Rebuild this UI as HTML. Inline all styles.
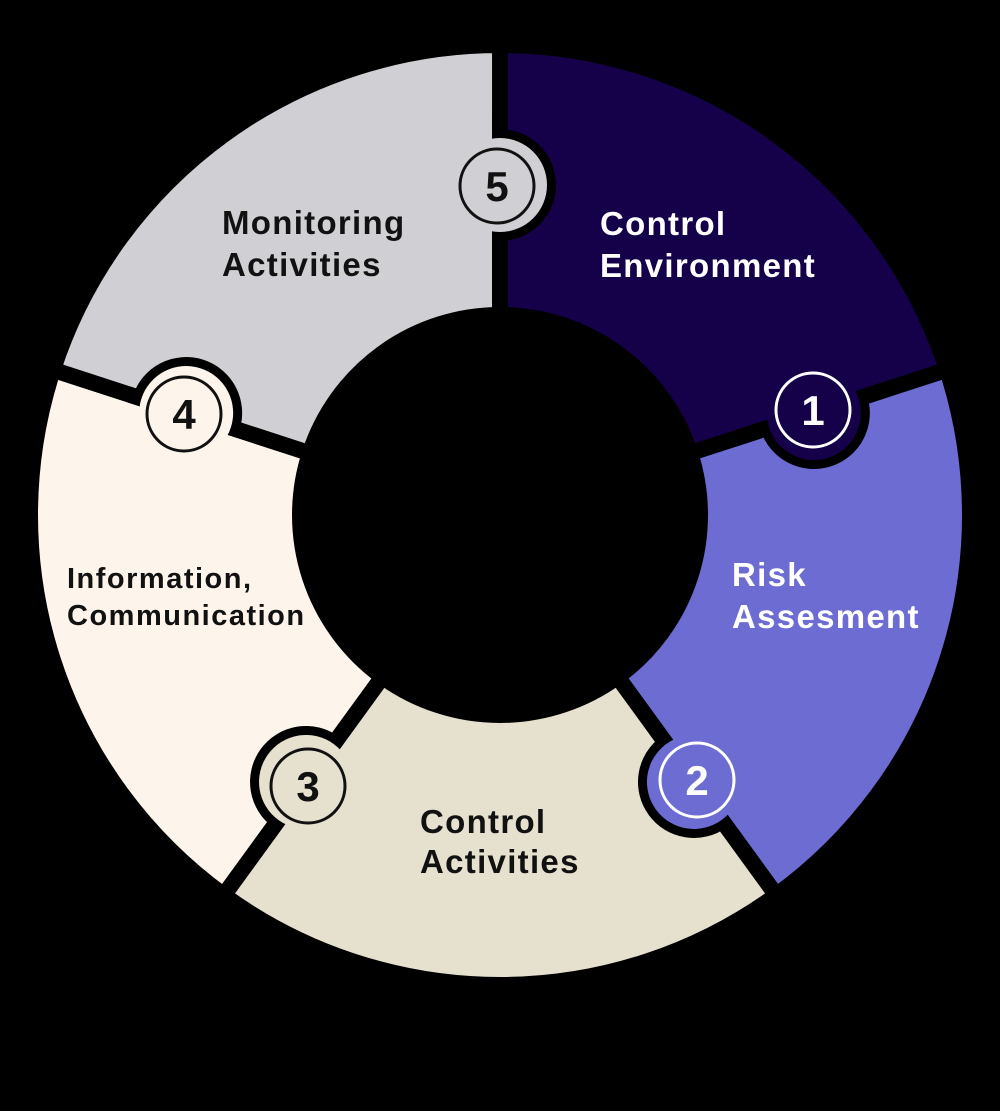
<!DOCTYPE html>
<html><head><meta charset="utf-8"><style>
html,body{margin:0;padding:0;background:#000;}
svg{display:block;}
text{font-family:"Liberation Sans",sans-serif;font-weight:bold;}
</style></head><body>
<svg width="1000" height="1111" viewBox="0 0 1000 1111" xmlns="http://www.w3.org/2000/svg">
<defs>
<path id="sec" d="M500,45 A470,470 0 0 1 947.0,369.8 L690.2,453.2 A200,200 0 0 0 500,315 Z"/>
<clipPath id="wedge" clipPathUnits="userSpaceOnUse"><polygon points="500,515 500,-300 1356,-300 1356,237"/></clipPath>
</defs>
<rect width="1000" height="1111" fill="#000"/>
<g stroke="#000" stroke-width="16" stroke-linejoin="round">
<use href="#sec" fill="#15004a"/>
<use href="#sec" fill="#6c6cd2" transform="rotate(72 500 515)"/>
<use href="#sec" fill="#e6e0cf" transform="rotate(144 500 515)"/>
<use href="#sec" fill="#fdf5eb" transform="rotate(216 500 515)"/>
<use href="#sec" fill="#d0d0d4" transform="rotate(288 500 515)"/>
</g>
<g><circle cx="500" cy="185" r="56" fill="#000" clip-path="url(#wedge)"/><circle cx="500" cy="185" r="47" fill="#d0d0d4"/></g>
<g transform="rotate(72 500 515)"><circle cx="500" cy="185" r="56" fill="#000" clip-path="url(#wedge)"/><circle cx="500" cy="185" r="47" fill="#15004a"/></g>
<g transform="rotate(144 500 515)"><circle cx="500" cy="185" r="56" fill="#000" clip-path="url(#wedge)"/><circle cx="500" cy="185" r="47" fill="#6c6cd2"/></g>
<g transform="rotate(216 500 515)"><circle cx="500" cy="185" r="56" fill="#000" clip-path="url(#wedge)"/><circle cx="500" cy="185" r="47" fill="#e6e0cf"/></g>
<g transform="rotate(288 500 515)"><circle cx="500" cy="185" r="56" fill="#000" clip-path="url(#wedge)"/><circle cx="500" cy="185" r="47" fill="#fdf5eb"/></g>
<circle cx="500" cy="515" r="207" fill="#000"/>
<g fill="none" stroke-width="3">
<circle cx="497" cy="186" r="37" stroke="#111"/>
<circle cx="813" cy="410" r="37" stroke="#fff"/>
<circle cx="697" cy="780" r="37" stroke="#fff"/>
<circle cx="308" cy="786" r="37" stroke="#111"/>
<circle cx="184" cy="414" r="37" stroke="#111"/>
</g>
<g font-size="42" text-anchor="middle">
<text x="497" y="201" fill="#111">5</text>
<text x="813" y="425" fill="#fff">1</text>
<text x="697" y="795" fill="#fff">2</text>
<text x="308" y="801" fill="#111">3</text>
<text x="184" y="429" fill="#111">4</text>
</g>
<g font-size="33" letter-spacing="1.3">
<text x="600" y="235" fill="#fff">Control</text>
<text x="600" y="277" fill="#fff">Environment</text>
<text x="732" y="586" fill="#fff">Risk</text>
<text x="732" y="628" fill="#fff">Assesment</text>
<text x="420" y="833" fill="#111">Control</text>
<text x="420" y="873" fill="#111">Activities</text>
<text x="222" y="234" fill="#111">Monitoring</text>
<text x="222" y="276" fill="#111">Activities</text>
</g>
<g font-size="29" letter-spacing="1.5">
<text x="67" y="588" fill="#111">Information,</text>
<text x="67" y="625" fill="#111">Communication</text>
</g>
</svg>
</body></html>
